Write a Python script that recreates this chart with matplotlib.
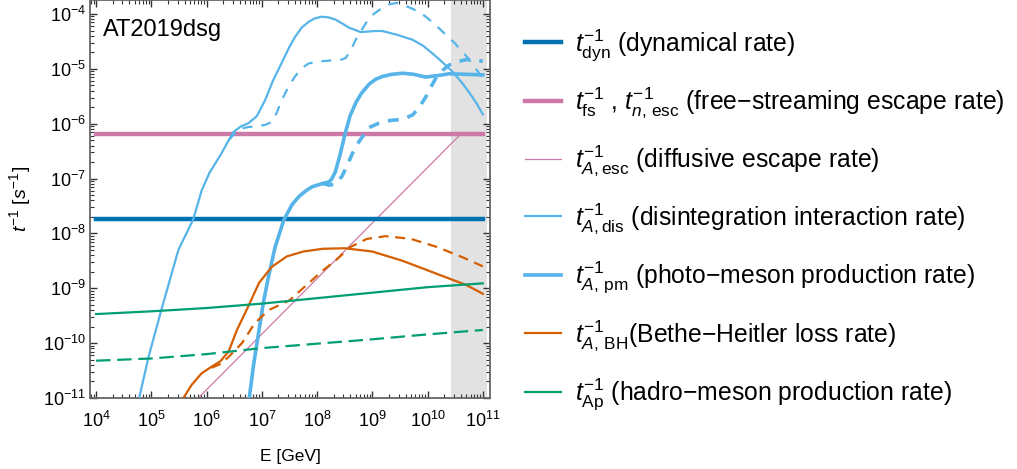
import matplotlib
matplotlib.use('Agg')
import matplotlib.pyplot as plt
from matplotlib.ticker import LogLocator, LogFormatterMathtext, NullFormatter
import numpy as np

plt.rcParams['font.family'] = ['Liberation Sans', 'DejaVu Sans']
plt.rcParams['mathtext.fontset'] = 'custom'
plt.rcParams['mathtext.rm'] = 'Liberation Sans'
plt.rcParams['mathtext.it'] = 'Liberation Sans:italic'
plt.rcParams['mathtext.bf'] = 'Liberation Sans:bold'

# values, log10(E/GeV) and log10(rate / s^-1)
t_dyn = 1.8e-8
t_fs = 6.6e-7
e_range = [4.0, 11.0]
x_decades = [4, 5, 6, 7, 8, 9, 10, 11]
y_decades = [-11, -10, -9, -8, -7, -6, -5, -4]

esc_logE = [5.0, 5.85, 10.61, 11.0]
esc_logR = [-11.86, -11.0, -6.18, -6.18]

dis_logE = [4.78, 4.95, 5.18, 5.49, 5.76, 5.91, 6.05, 6.27, 6.40, 6.49, 6.62, 6.76,
            6.91, 7.06, 7.20, 7.36, 7.50, 7.60, 7.72, 7.85, 7.96, 8.08, 8.20, 8.33,
            8.45, 8.58, 8.79, 9.06, 9.18, 9.45, 9.73, 9.92, 10.09, 10.27, 10.45,
            10.62, 10.76, 10.90, 11.0]
dis_logR = [-11.0, -10.25, -9.40, -8.30, -7.74, -7.22, -6.90, -6.54, -6.30, -6.15,
            -6.05, -5.99, -5.86, -5.57, -5.22, -4.89, -4.60, -4.42, -4.25, -4.14,
            -4.08, -4.05, -4.06, -4.10, -4.17, -4.25, -4.33, -4.31, -4.31, -4.38,
            -4.47, -4.58, -4.72, -4.88, -5.05, -5.25, -5.44, -5.65, -5.83]

dis2_logE = [6.40, 6.49, 6.58, 6.76, 6.92, 7.06, 7.18, 7.27, 7.36, 7.48, 7.60, 7.72,
             7.85, 8.10, 8.33, 8.45, 8.52, 8.61, 8.70, 8.88, 9.00, 9.12, 9.31, 9.45,
             9.67, 9.82, 9.97, 10.12, 10.27, 10.49, 10.73, 11.0]
dis2_logR = [-6.30, -6.20, -6.10, -6.06, -6.05, -6.02, -5.97, -5.80, -5.57, -5.33,
             -5.14, -4.99, -4.90, -4.86, -4.84, -4.83, -4.80, -4.66, -4.47, -4.17,
             -4.02, -3.93, -3.82, -3.80, -3.88, -3.95, -4.05, -4.18, -4.32, -4.53,
             -4.80, -5.17]

pm_logE = [6.76, 6.85, 6.94, 7.03, 7.12, 7.24, 7.40, 7.55, 7.67, 7.80, 7.91, 8.10,
           8.22, 8.27, 8.33, 8.42, 8.51, 8.60, 8.70, 8.80, 8.94, 9.06, 9.18, 9.35,
           9.55, 9.75, 9.97, 10.20, 10.39, 10.70, 11.0]
pm_logR = [-11.1, -10.40, -9.82, -9.25, -8.79, -8.25, -7.75, -7.47, -7.33, -7.22,
           -7.15, -7.09, -7.06, -7.00, -6.88, -6.55, -6.17, -5.85, -5.62, -5.45,
           -5.28, -5.19, -5.14, -5.10, -5.08, -5.10, -5.15, -5.12, -5.09, -5.10,
           -5.11]

pm2_logE = [8.10, 8.22, 8.33, 8.45, 8.55, 8.64, 8.73, 8.82, 8.94, 9.12, 9.33, 9.55,
            9.73, 9.85, 9.97, 10.06, 10.15, 10.27, 10.39, 10.55, 10.70, 11.0]
pm2_logR = [-7.09, -7.12, -7.10, -6.96, -6.75, -6.54, -6.37, -6.24, -6.07, -5.99,
            -5.94, -5.92, -5.84, -5.70, -5.51, -5.33, -5.17, -5.03, -4.93, -4.87,
            -4.83, -4.86]

bh_logE = [5.55, 5.73, 5.91, 6.09, 6.25, 6.40, 6.55, 6.75, 6.95, 7.18, 7.45, 7.75,
           8.10, 8.50, 9.00, 9.55, 10.15, 10.70, 11.0]
bh_logR = [-11.05, -10.76, -10.55, -10.43, -10.33, -10.15, -9.76, -9.34, -8.90,
           -8.61, -8.42, -8.33, -8.28, -8.27, -8.33, -8.50, -8.73, -8.94, -9.10]

bh2_logE = [6.09, 6.25, 6.40, 6.64, 6.87, 7.12, 7.50, 7.80, 8.10, 8.35, 8.60, 8.90,
            9.24, 9.70, 10.15, 10.60, 11.0]
bh2_logR = [-10.45, -10.38, -10.25, -10.0, -9.64, -9.40, -9.22, -8.95, -8.68, -8.48,
            -8.25, -8.10, -8.05, -8.10, -8.24, -8.42, -8.60]

ap_logE = [4, 5, 6, 7, 8, 9, 10, 11]
ap_logR = [-9.47, -9.42, -9.36, -9.28, -9.18, -9.08, -8.98, -8.91]
ap2_logR = [-10.32, -10.28, -10.20, -10.09, -10.01, -9.93, -9.84, -9.76]

band = [2.7e10, 1.2e11]

labels = [
    r'$t_{\rm dyn}^{-1}$ (dynamical rate)',
    r'$t_{\rm fs}^{-1}$ , $t_{n,\,\rm esc}^{-1}$ (free−streaming escape rate)',
    r'$t_{A,\rm esc}^{-1}$ (diffusive escape rate)',
    r'$t_{A,\rm dis}^{-1}$ (disintegration interaction rate)',
    r'$t_{A,\,\rm pm}^{-1}$ (photo−meson production rate)',
    r'$t_{A,\,\rm BH}^{-1}$(Bethe−Heitler loss rate)',
    r'$t_{\rm Ap}^{-1}$ (hadro−meson production rate)',
]

c_dyn = '#0072b2'
c_pink = '#cc79a7'
c_blue = '#56b4e9'
c_orange = '#d55e00'
c_green = '#009e73'


def p(v):
    return 10.0 ** np.asarray(v, dtype=float)


fig = plt.figure(figsize=(10.17, 4.69), dpi=100)
ax = fig.add_axes([90 / 1017, 71 / 469, 400 / 1017, 398 / 469])

ax.axvspan(band[0], band[1], color='#e2e2e2', lw=0, zorder=0)

h = []
h += ax.plot(p(e_range), [t_dyn, t_dyn], color=c_dyn, lw=3.2, zorder=3)
h += ax.plot(p(e_range), [t_fs, t_fs], color=c_pink, lw=3.2, zorder=3)
h += ax.plot(p(esc_logE), p(esc_logR), color=c_pink, lw=0.9, zorder=2)
h += ax.plot(p(dis_logE), p(dis_logR), color=c_blue, lw=1.6, zorder=4,
             solid_joinstyle='round')
ax.plot(p(dis2_logE), p(dis2_logR), color=c_blue, lw=1.6, dashes=(4.5, 4), zorder=4)
h += ax.plot(p(pm_logE), p(pm_logR), color=c_blue, lw=2.6, zorder=4,
             solid_joinstyle='round')
ax.plot(p(pm2_logE), p(pm2_logR), color=c_blue, lw=2.6, dashes=(3, 2.5), zorder=4)
h += ax.plot(p(bh_logE), p(bh_logR), color=c_orange, lw=1.6, zorder=4,
             solid_joinstyle='round')
ax.plot(p(bh2_logE), p(bh2_logR), color=c_orange, lw=1.6, dashes=(4.5, 3), zorder=4)
h += ax.plot(p(ap_logE), p(ap_logR), color=c_green, lw=1.6, zorder=4)
ax.plot(p(ap_logE), p(ap2_logR), color=c_green, lw=1.6, dashes=(6.5, 3), zorder=4)

ax.set_xscale('log')
ax.set_yscale('log')
ax.set_xlim(10 ** 3.89, 10 ** 11.13)
ax.set_ylim(1e-11, 10 ** -3.745)

ax.set_xticks(p(x_decades))
ax.set_yticks(p(y_decades))
ax.xaxis.set_minor_locator(LogLocator(base=10, subs=np.arange(2, 10), numticks=50))
ax.yaxis.set_minor_locator(LogLocator(base=10, subs=np.arange(2, 10), numticks=50))
ax.xaxis.set_minor_formatter(NullFormatter())
ax.yaxis.set_minor_formatter(NullFormatter())
ax.xaxis.set_major_formatter(LogFormatterMathtext())
ax.yaxis.set_major_formatter(LogFormatterMathtext())
ax.set_xlim(10 ** 3.89, 10 ** 11.13)
ax.set_ylim(1e-11, 10 ** -3.745)

ax.tick_params(which='both', direction='in', top=True, right=True, color='#333333')
ax.tick_params(which='major', length=5, width=1.0, labelsize=13)
ax.tick_params(axis='x', which='major', pad=9)
ax.tick_params(axis='y', which='major', pad=3)
ax.tick_params(which='minor', length=3, width=0.8)
for s in ax.spines.values():
    s.set_color('#666666')
    s.set_linewidth(1.3)

ax.set_xlabel('E [GeV]', fontsize=12.5, labelpad=13)
ax.set_ylabel(r'$t^{-1}$ [$s^{-1}$]', fontsize=14, labelpad=7)

ax.text(0.0325, 0.925, 'AT2019dsg', transform=ax.transAxes, fontsize=17,
        va='center', ha='left')

fig.legend(h, labels, loc='upper left', bbox_to_anchor=(508 / 1017, 0.98),
           frameon=False, fontsize=17.8, handlelength=1.45, handletextpad=0.55,
           labelspacing=0.94, borderaxespad=0.3)

plt.savefig('out.png', dpi=100)
